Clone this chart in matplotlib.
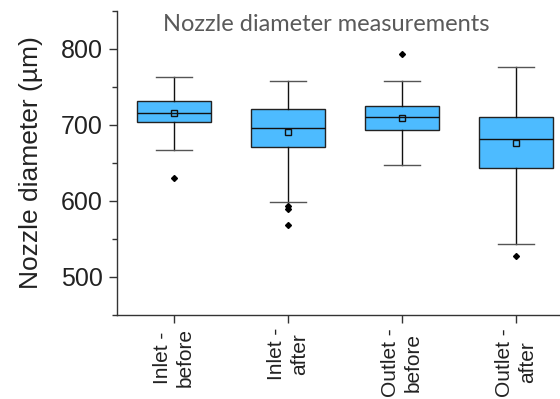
import matplotlib.pyplot as plt
from matplotlib.ticker import MultipleLocator

labels = ["Inlet -\nbefore", "Inlet -\nafter", "Outlet -\nbefore", "Outlet -\nafter"]
whislo = [667, 599, 647, 543]
q1 = [703.5, 671.5, 693.5, 644]
med = [716, 695.5, 710, 682]
q3 = [731, 721, 725, 711]
whishi = [763.5, 758, 758, 776]
means = [716, 691, 709, 676]
fliers = [[630], [594, 589, 569], [794], [527]]

stats = []
for i in range(len(labels)):
    stats.append(dict(label=labels[i], whislo=whislo[i], q1=q1[i], med=med[i],
                      q3=q3[i], whishi=whishi[i], mean=means[i], fliers=fliers[i]))

fig = plt.figure(figsize=(5.6, 3.99), dpi=100)
ax = fig.add_axes([117 / 560, 1 - 315 / 399, 1 - 117 / 560, (315 - 11) / 399])

ax.bxp(stats, positions=[1, 2, 3, 4], widths=0.65, patch_artist=True,
       showmeans=True, showfliers=True,
       boxprops=dict(facecolor="#4dbbff", edgecolor="#222222", linewidth=1.0),
       medianprops=dict(color="#111111", linewidth=1.0),
       whiskerprops=dict(color="#111111", linewidth=1.0),
       capprops=dict(color="#555555", linewidth=1.0),
       capwidths=0.32,
       meanprops=dict(marker="s", markerfacecolor="none", markeredgecolor="#111111",
                      markersize=4, markeredgewidth=1.0),
       flierprops=dict(marker="D", markerfacecolor="black", markeredgecolor="black",
                       markersize=3))

ax.set_xlim(0.5, 0.5 + 443 / 114)
ax.set_ylim(450, 850)
ax.yaxis.set_major_locator(MultipleLocator(100))
ax.yaxis.set_minor_locator(MultipleLocator(50))
ax.spines["top"].set_visible(False)
ax.spines["right"].set_visible(False)
for s in ["left", "bottom"]:
    ax.spines[s].set_color("#333333")
    ax.spines[s].set_linewidth(1.0)
ax.tick_params(axis="both", which="major", direction="out", length=6, width=1, color="#333333")
ax.tick_params(axis="y", which="minor", direction="out", length=3.5, width=1, color="#333333")
ax.tick_params(axis="y", labelsize=18, pad=4, labelcolor="#222222")
ax.set_xticks([1, 2, 3, 4])
ax.set_xticklabels(labels, rotation=90, fontsize=15, ha="center", va="top",
                   multialignment="center", linespacing=1.25, family="Liberation Sans",
                   color="#222222")
for t in ax.get_yticklabels():
    t.set_family("Liberation Sans")

ax.set_ylabel("Nozzle diameter (µm)", fontsize=19, family="Liberation Sans",
              labelpad=13, color="#222222")

fig.text(326 / 560, 1 - 31 / 399, "Nozzle diameter measurements", ha="center",
         va="baseline", fontsize=17, color="#5a5a5a", family="Lato")

fig.savefig("out.png", dpi=100)
